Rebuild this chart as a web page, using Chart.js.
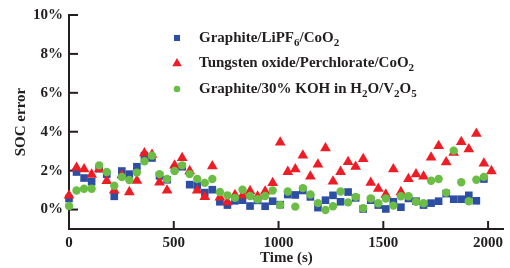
<!DOCTYPE html>
<html><head><meta charset="utf-8">
<script src="https://cdn.jsdelivr.net/npm/chart.js@4/dist/chart.umd.min.js"></script>
<style>html,body{margin:0;padding:0;background:#fff}#wrap{width:510px;height:268px;position:relative}</style>
</head><body><div id="wrap"><canvas id="c" width="510" height="268"></canvas></div>
<script>
// Time (s) of each measurement
const timeSeconds = [0,36,72,108,144,180,216,252,288,324,360,396,432,468,504,540,576,612,648,684,720,756,792,828,864,900,936,972,1008,1044,1080,1116,1152,1188,1224,1260,1296,1332,1368,1404,1440,1476,1512,1548,1584,1620,1656,1692,1728,1764,1800,1836,1872,1908,1944,1980,2016];
// SOC error (%)
const lipfCoO2 = [0.57,1.93,1.62,1.43,2.1,1.82,0.68,1.98,1.82,2.2,2.77,2.65,1.73,1.53,2.1,2.2,1.28,1.23,0.87,1.02,0.4,0.23,0.45,0.48,0.18,0.47,0.17,0.43,0.25,0.77,0.75,0.98,0.65,0.1,0.48,0.73,0.4,0.9,0.6,0.03,0.48,0.23,0.03,0.4,0.12,0.57,0.43,0.23,0.33,0.43,0.82,0.53,0.53,0.73,0.45,1.57];
const tungstenCoO2 = [0.73,2.15,2.07,1.8,2.07,1.47,0.98,1.77,0.9,1.48,2.9,2.82,1.4,0.98,2.27,2.65,1.98,0.98,0.65,2.23,0.62,0.38,0.75,0.73,0.95,0.67,0.93,1.37,3.45,1.94,2.07,2.78,1.7,2.32,3.15,1.45,1.94,2.45,2.2,2.6,1.38,1.07,0.77,2.07,0.9,1.57,1.82,1.7,2.68,3.27,2.43,2.93,3.48,3.1,3.9,2.37,1.98];
const kohV2O5 = [0.18,0.98,1.07,1.07,2.27,1.93,1.22,1.67,1.52,1.9,2.48,2.77,1.82,1.57,1.98,2.27,1.82,1.57,1.37,1.57,0.9,0.73,0.6,1.02,0.7,0.53,0.7,0.98,0.23,0.93,0.15,1.1,0.77,0.33,-0.02,0.17,0.93,0.37,0.65,0.07,0.57,0.32,0.57,0.2,0.68,0.68,0.4,0.32,1.48,1.57,0.87,3.03,1.4,0.43,1.53,1.68];
const seriesLabels = ['Graphite/LiPF_6/CoO_2','Tungsten oxide/Perchlorate/CoO_2','Graphite/30% KOH in H_2O/V_2O_5'];
const xTickValues = [0,500,1000,1500,2000];
const yTickValues = [0,2,4,6,8,10];
const xTitle = 'Time (s)';
const yTitle = 'SOC error';

const INK = '#231f20';
const BLUE = '#2c4ea3', RED = '#ee1c25', GREEN = '#6cbd45';
const FONT = "'Liberation Serif', 'Times New Roman', serif";

function pts(vals){ return vals.map((v,k)=>({x: timeSeconds[k], y: v})); }

const decor = {
  id: 'decor',
  beforeDatasetsDraw(chart){
    const ctx = chart.ctx, xs = chart.scales.x, ys = chart.scales.y, a = chart.chartArea;
    ctx.save(); ctx.strokeStyle = INK; ctx.lineWidth = 2;
    ys.ticks.forEach(t=>{ const y = ys.getPixelForValue(t.value); ctx.beginPath(); ctx.moveTo(a.left, y); ctx.lineTo(a.left+9, y); ctx.stroke(); });
    xs.ticks.forEach(t=>{ const x = xs.getPixelForValue(t.value); ctx.beginPath(); ctx.moveTo(x, a.bottom); ctx.lineTo(x, a.bottom-8); ctx.stroke(); });
    ctx.restore();
  },
  afterDraw(chart){
    const ctx = chart.ctx;
    const legendX = 177, textX = 199, baselines = [41.5, 67, 92.5];
    const legendStyles = [{pointStyle:'rect', radius:4.3},{pointStyle:'triangle', radius:5.5},{pointStyle:'circle', radius:3.3}];
    ctx.save();
    chart.data.datasets.forEach((ds, i)=>{
      const b = baselines[i];
      ctx.fillStyle = ds.backgroundColor;
      Chart.helpers.drawPoint(ctx, {pointStyle: legendStyles[i].pointStyle, radius: legendStyles[i].radius, rotation:0, borderWidth:0}, legendX, b-3.5);
      ctx.fillStyle = INK; ctx.textBaseline = 'alphabetic'; ctx.textAlign = 'left';
      let x = textX;
      const parts = seriesLabels[i].split(/_(\d)/);
      parts.forEach((p, j)=>{
        if (!p) return;
        const sub = j % 2 === 1;
        ctx.font = 'bold ' + (sub ? 11 : 15) + 'px ' + FONT;
        ctx.fillText(p, x, sub ? b+4 : b);
        x += ctx.measureText(p).width;
      });
    });
    ctx.restore();
  }
};

new Chart(document.getElementById('c'), {
  type: 'scatter',
  data: { datasets: [
    { label: seriesLabels[0], data: pts(lipfCoO2), pointStyle:'rect', pointRadius:5.4, backgroundColor: BLUE, borderColor: BLUE, borderWidth:0, order:3, clip: false },
    { label: seriesLabels[1], data: pts(tungstenCoO2), pointStyle:'triangle', pointRadius:6.2, backgroundColor: RED, borderColor: RED, borderWidth:0, order:2, clip: false },
    { label: seriesLabels[2], data: pts(kohV2O5), pointStyle:'circle', pointRadius:4.2, backgroundColor: GREEN, borderColor: GREEN, borderWidth:0, order:1, clip: false }
  ]},
  options: {
    responsive: false, animation: false, devicePixelRatio: 1,
    layout: { padding: { left: 0, right: 5, top: 9, bottom: 0 } },
    plugins: { legend: { display: false }, tooltip: { enabled: false } },
    scales: {
      x: {
        type: 'linear', min: 0, max: 2075,
        afterBuildTicks: s => { s.ticks = xTickValues.map(v=>({value:v})); },
        afterFit: s => { s.height = 39; },
        grid: { display: false, drawTicks: false, tickLength: 0 },
        border: { display: true, color: INK, width: 2 },
        ticks: { color: INK, padding: 5, maxRotation: 0, callback: v => String(v), font: { family: FONT, weight: 'bold', size: 15 } },
        title: { display: true, text: xTitle, color: INK, padding: { top: 0, bottom: 1 }, font: { family: FONT, weight: 'bold', size: 15 } }
      },
      y: {
        type: 'linear', min: -1, max: 10,
        afterBuildTicks: s => { s.ticks = yTickValues.map(v=>({value:v})); },
        afterFit: s => { s.width = 69; },
        grid: { display: false, drawTicks: false, tickLength: 0 },
        border: { display: true, color: INK, width: 2 },
        ticks: { color: INK, padding: 6, callback: v => v + '%', font: { family: FONT, weight: 'bold', size: 15 } },
        title: { display: true, text: yTitle, color: INK, padding: { top: 12, bottom: 0 }, font: { family: FONT, weight: 'bold', size: 15 } }
      }
    }
  },
  plugins: [decor]
});
</script></body></html>
